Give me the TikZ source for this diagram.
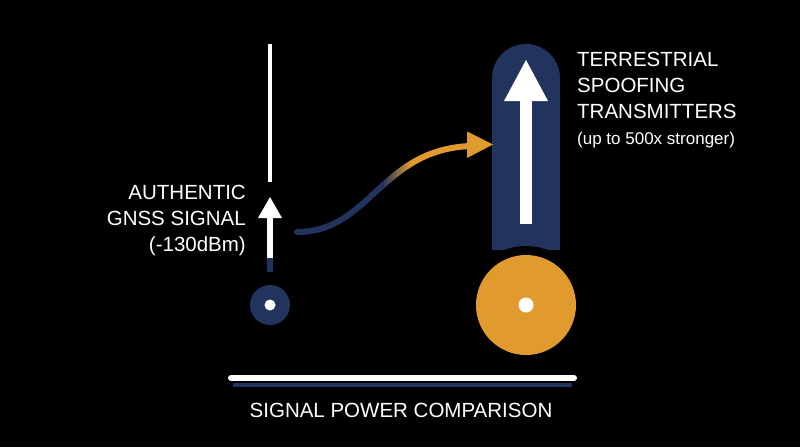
\documentclass[tikz,border=0pt]{standalone}
\usepackage{fontspec}
\setmainfont{Liberation Sans}
\usetikzlibrary{arrows.meta}
\definecolor{navy}{HTML}{22335E}
\definecolor{gold}{HTML}{E19A2E}
\begin{document}
\begin{tikzpicture}[x=1pt,y=-1pt,
  lbl/.style={text=white,font=\fontsize{20.5}{26}\selectfont,inner sep=0},
  curve/.style={line width=6pt,line cap=round}]
\fill[black] (0,0) rectangle (800,447);
\useasboundingbox (0,0) rectangle (800,447);
% left meter
\draw[white,line width=4pt] (270,44) -- (270,182);
\fill[navy] (267,256) rectangle (273,272);
\fill[white] (267,214) rectangle (273,258);
\fill[white] (270,197) -- (282,218) -- (258,218) -- cycle;
\node[circle,fill=navy,minimum size=40pt,inner sep=0] (src) at (270,305) {};
\fill[white] (src) circle (5.5);
% right meter
\fill[navy] (492,250) -- (492,78) arc[start angle=180,end angle=360,radius=34] -- (560,250) -- cycle;
\fill[black] (526,305) circle (59);
\node[circle,fill=gold,minimum size=100pt,inner sep=0] (spoof) at (526,305) {};
\fill[white] (spoof) circle (7.5);
\fill[white] (520,100) rectangle (532,224);
\fill[white] (526,60) -- (548,101) -- (504,101) -- cycle;
% curve
\coordinate (c0) at (297,232);
\coordinate (c1) at (470,146);
\def\crv{(c0) .. controls (370,232) and (380,150) .. (c1)}
\begin{scope}\clip (280,100) rectangle (382,260);
\draw[navy,curve] \crv; \end{scope}
\foreach \i in {0,...,14}{
 \pgfmathsetmacro\p{100*\i/14}
 \begin{scope}\clip (382+2*\i,100) rectangle (384.2+2*\i,260);
 \draw[gold!\p!navy,curve] \crv; \end{scope}}
\begin{scope}\clip (411,100) rectangle (520,260);
\draw[gold,line width=6pt] \crv;
\end{scope}
\fill[gold] (493,144.5) -- (467,131.5) -- (467,158) -- cycle;
% bottom
\draw[white,line width=6pt,line cap=round] (231,378) -- (574,378);
\draw[navy,line width=4pt] (233,384.5) -- (572,384.5);
\node[lbl] (title) at (401,410) {SIGNAL POWER COMPARISON};
\node[lbl,anchor=north east,align=right] (auth) at (246,185) {AUTHENTIC\\GNSS SIGNAL\\(-130dBm)};
\node[lbl,anchor=north west,align=left] (terr) at (577,52) {TERRESTRIAL\\SPOOFING\\TRANSMITTERS\\{\fontsize{17}{24}\selectfont (up to 500x stronger)}};
\end{tikzpicture}
\end{document}
